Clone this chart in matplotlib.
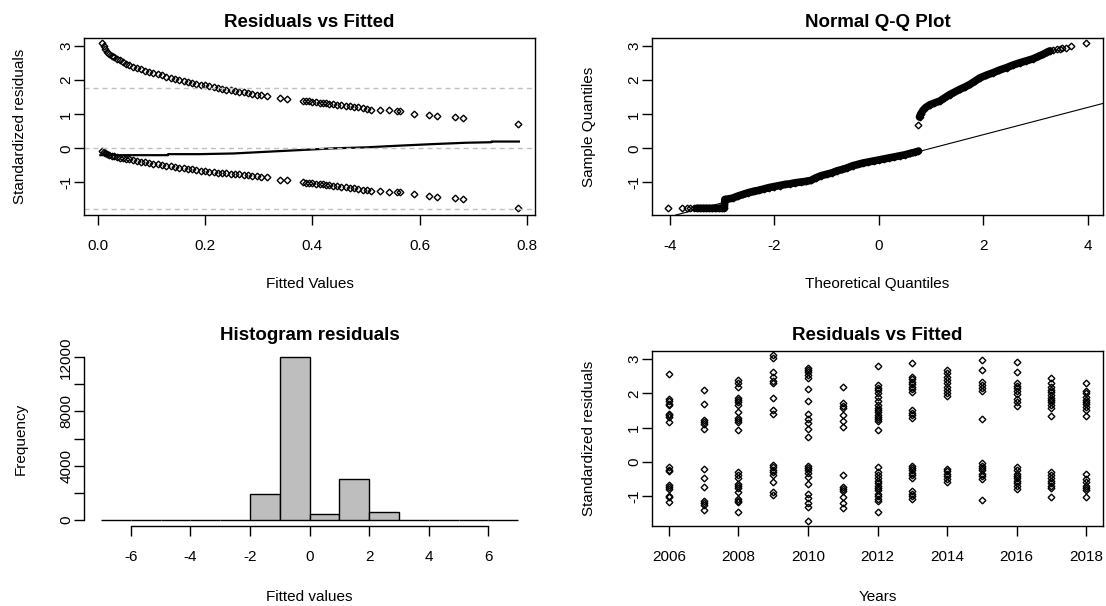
import matplotlib.pyplot as plt
import numpy as np

plt.rcParams['font.family'] = ['Liberation Sans', 'DejaVu Sans']
plt.rcParams['axes.unicode_minus'] = False

# Residuals vs fitted (top left): fitted values, residuals of the 1s and the 0s
fitted = [0.008, 0.011, 0.014, 0.018, 0.022, 0.026, 0.031, 0.036, 0.041, 0.047,
          0.053, 0.059, 0.066, 0.073, 0.080, 0.088, 0.096, 0.104, 0.112, 0.120,
          0.128, 0.136, 0.144, 0.152, 0.160, 0.168, 0.176, 0.184, 0.192, 0.200,
          0.208, 0.216, 0.224, 0.232, 0.240, 0.248, 0.256, 0.264, 0.272, 0.280,
          0.288, 0.296, 0.304, 0.315, 0.340, 0.353, 0.382, 0.388, 0.394, 0.400,
          0.407, 0.414, 0.420, 0.426, 0.432, 0.439, 0.446, 0.454, 0.462, 0.470,
          0.478, 0.486, 0.494, 0.502, 0.510, 0.526, 0.543, 0.557, 0.563, 0.589,
          0.618, 0.633, 0.666, 0.681, 0.783]
resid_pos = [3.08, 3.00, 2.92, 2.83, 2.77, 2.72, 2.67, 2.63, 2.59, 2.54,
             2.49, 2.45, 2.40, 2.36, 2.32, 2.27, 2.24, 2.21, 2.17, 2.14,
             2.10, 2.07, 2.04, 2.01, 1.98, 1.96, 1.93, 1.90, 1.87, 1.85,
             1.82, 1.79, 1.77, 1.75, 1.72, 1.70, 1.68, 1.66, 1.64, 1.62,
             1.60, 1.58, 1.56, 1.54, 1.47, 1.45, 1.40, 1.39, 1.38, 1.36,
             1.35, 1.34, 1.33, 1.32, 1.31, 1.30, 1.28, 1.27, 1.25, 1.23,
             1.22, 1.20, 1.18, 1.16, 1.14, 1.12, 1.12, 1.09, 1.09, 1.02,
             0.97, 0.95, 0.91, 0.88, 0.72]
resid_neg = [-0.09, -0.12, -0.15, -0.17, -0.19, -0.21, -0.23, -0.25, -0.27, -0.29,
             -0.30, -0.32, -0.34, -0.36, -0.39, -0.41, -0.43, -0.45, -0.47, -0.49,
             -0.51, -0.53, -0.55, -0.57, -0.59, -0.61, -0.62, -0.63, -0.65, -0.66,
             -0.68, -0.69, -0.71, -0.72, -0.73, -0.74, -0.75, -0.76, -0.78, -0.79,
             -0.81, -0.82, -0.84, -0.85, -0.93, -0.93, -1.00, -1.01, -1.02, -1.03,
             -1.04, -1.05, -1.06, -1.07, -1.08, -1.10, -1.11, -1.12, -1.14, -1.16,
             -1.17, -1.19, -1.21, -1.23, -1.25, -1.24, -1.27, -1.27, -1.28, -1.35,
             -1.39, -1.42, -1.47, -1.50, -1.76]
smooth_x = [0.005, 0.131, 0.131, 0.190, 0.253, 0.315, 0.377, 0.439, 0.501,
            0.563, 0.625, 0.687, 0.734, 0.734, 0.785]
smooth_y = [-0.20, -0.20, -0.17, -0.17, -0.15, -0.10, -0.05, 0.00, 0.03,
            0.08, 0.125, 0.165, 0.18, 0.20, 0.20]
ref_levels = [-1.77, 0.0, 1.77]

# Normal Q-Q (top right)
qq_lo_theo = [-4.03, -3.78, -3.68, -3.62, -3.55, -3.49, -3.43, -3.37, -3.31, -3.25,
              -3.19, -3.13, -3.07, -3.01, -2.96, -2.95, -2.90, -2.80, -2.70, -2.60,
              -2.50, -2.40, -2.30, -2.20, -2.10, -2.00, -1.90, -1.80, -1.70, -1.60,
              -1.50, -1.40, -1.30, -1.20, -1.10, -1.00, -0.90, -0.80, -0.70, -0.60,
              -0.50, -0.40, -0.30, -0.20, -0.10, 0.00, 0.10, 0.20, 0.30, 0.40,
              0.50, 0.60, 0.70, 0.76]
qq_lo_sample = [-1.76, -1.76, -1.76, -1.76, -1.76, -1.76, -1.76, -1.76, -1.76, -1.76,
                -1.76, -1.76, -1.76, -1.76, -1.76, -1.50, -1.49, -1.46, -1.40, -1.35,
                -1.30, -1.26, -1.23, -1.19, -1.15, -1.12, -1.09, -1.06, -1.04, -1.01,
                -0.99, -0.97, -0.94, -0.86, -0.80, -0.76, -0.72, -0.66, -0.62, -0.57,
                -0.51, -0.47, -0.43, -0.40, -0.37, -0.34, -0.31, -0.28, -0.25, -0.22,
                -0.19, -0.15, -0.11, -0.08]
qq_hi_theo = [0.745, 0.78, 0.80, 0.85, 0.90, 0.98, 1.05, 1.17, 1.25, 1.36,
              1.45, 1.55, 1.65, 1.75, 1.85, 1.94, 2.05, 2.19, 2.30, 2.45,
              2.58, 2.70, 2.83, 2.96, 3.06, 3.15, 3.22, 3.28, 3.34, 3.41,
              3.47, 3.52, 3.59, 3.69, 3.97]
qq_hi_sample = [0.70, 0.92, 1.00, 1.12, 1.20, 1.28, 1.32, 1.39, 1.47, 1.58,
                1.65, 1.73, 1.80, 1.88, 1.98, 2.07, 2.14, 2.22, 2.29, 2.37,
                2.45, 2.51, 2.57, 2.63, 2.70, 2.76, 2.82, 2.86, 2.89, 2.91,
                2.93, 2.94, 2.94, 3.00, 3.08]
qq_intercept = -0.40
qq_slope = 0.40

# Histogram (bottom left)
hist_breaks = list(range(-7, 8))
hist_counts = [0, 0, 0, 0, 0, 1920, 12000, 440, 3020, 540, 0, 0, 0, 0]

# Residuals by year (bottom right)
years = list(range(2006, 2019))
r2006 = [2.56, 1.85, 1.77, 1.70, 1.66, 1.41, 1.36, 1.31, 1.17,
         -0.16, -0.23, -0.28, -0.68, -0.75, -0.81, -0.99, -1.04, -1.19]
r2007 = [2.10, 1.68, 1.22, 1.15, 1.09, 0.97,
         -0.21, -0.48, -0.75, -1.14, -1.21, -1.26, -1.40]
r2008 = [2.39, 2.29, 2.20, 1.87, 1.80, 1.74, 1.66, 1.46, 1.28, 1.22, 1.15, 0.94,
         -0.30, -0.38, -0.48, -0.65, -0.72, -0.77, -0.89, -1.09, -1.14, -1.19, -1.46]
r2009 = [3.11, 3.03, 2.62, 2.49, 2.36, 2.29, 1.87, 1.51, 1.41,
         -0.09, -0.16, -0.25, -0.30, -0.40, -0.60, -0.89, -0.97]
r2010 = [2.75, 2.69, 2.62, 2.54, 2.44, 2.13, 1.77, 1.41, 1.26, 1.12, 0.95, 0.73,
         -0.13, -0.19, -0.25, -0.32, -0.45, -0.65, -0.94, -1.07, -1.21, -1.33, -1.73]
r2011 = [2.20, 1.71, 1.64, 1.56, 1.38, 1.19, 1.02,
         -0.40, -0.75, -0.81, -0.87, -1.04, -1.21, -1.36]
r2012 = [2.79, 2.25, 2.17, 2.10, 2.00, 1.90, 1.77, 1.66, 1.58, 1.51, 1.46, 1.38,
         1.31, 1.25, 1.19, 0.92,
         -0.16, -0.30, -0.40, -0.48, -0.55, -0.62, -0.70, -0.77, -0.84, -0.94,
         -1.01, -1.09, -1.14, -1.48]
r2013 = [2.88, 2.49, 2.42, 2.34, 2.26, 2.20, 2.12, 2.05, 1.51, 1.44, 1.36, 1.28,
         -0.11, -0.19, -0.25, -0.32, -0.40, -0.48, -0.87, -0.94, -1.01, -1.09]
r2014 = [2.69, 2.59, 2.49, 2.39, 2.29, 2.20, 2.10, 2.00, 1.93,
         -0.21, -0.28, -0.35, -0.42, -0.50, -0.58]
r2015 = [2.98, 2.69, 2.32, 2.25, 2.17, 2.07, 1.25,
         -0.03, -0.11, -0.19, -0.25, -0.35, -0.42, -0.50, -1.11]
r2016 = [2.91, 2.62, 2.29, 2.23, 2.15, 2.07, 1.97, 1.85, 1.74, 1.64,
         -0.16, -0.25, -0.35, -0.42, -0.48, -0.55, -0.62, -0.72, -0.81]
r2017 = [2.44, 2.29, 2.20, 2.10, 2.03, 1.95, 1.87, 1.80, 1.74, 1.66, 1.58, 1.33,
         -0.30, -0.40, -0.48, -0.55, -0.62, -0.70, -0.77, -1.04]
r2018 = [2.29, 2.08, 2.00, 1.90, 1.82, 1.75, 1.68, 1.60, 1.50, 1.33,
         -0.37, -0.50, -0.60, -0.70, -0.76, -0.84, -1.04]
resid_by_year = [r2006, r2007, r2008, r2009, r2010, r2011, r2012,
                 r2013, r2014, r2015, r2016, r2017, r2018]

# R-like look
TITLE = dict(fontsize=13.5, fontweight='bold', pad=7.8)
LABEL = 11
pts = dict(linestyle='none', marker='D', markersize=3.4, markerfacecolor='none',
           markeredgecolor='black', markeredgewidth=1.0)


def r_axes(ax):
    for s in ax.spines.values():
        s.set_linewidth(1.0)
    ax.tick_params(direction='out', length=7, width=1.0, labelsize=LABEL)
    ax.tick_params(axis='x', pad=10.5)
    ax.tick_params(axis='y', pad=1)
    for lab in ax.get_yticklabels():
        lab.set_rotation(90)
        lab.set_va('center')
    ax.xaxis.set_label_coords(0.5, -0.352)
    ax.yaxis.set_label_coords(-0.126, 0.5)


fig = plt.figure(figsize=(11.06, 6.06), dpi=100)
ax1 = fig.add_axes([0.0762, 0.6452, 0.4075, 0.2916])
ax2 = fig.add_axes([0.5898, 0.6452, 0.4072, 0.2916])
ax3 = fig.add_axes([0.0762, 0.1320, 0.4075, 0.2888])
ax4 = fig.add_axes([0.5898, 0.1320, 0.4072, 0.2888])

# --- top left
ax1.plot(fitted, resid_pos, **pts)
ax1.plot(fitted, resid_neg, **pts)
ax1.plot(smooth_x, smooth_y, color='black', lw=1.6)
for lv in ref_levels:
    ax1.axhline(lv, color='#c0c0c0', lw=1.0, dashes=(3.6, 2.9))
ax1.set_xlim(-0.025, 0.815)
ax1.set_ylim(-1.956, 3.23)
ax1.set_xticks([0.0, 0.2, 0.4, 0.6, 0.8])
ax1.set_xticklabels(['0.0', '0.2', '0.4', '0.6', '0.8'])
ax1.set_yticks([-1, 0, 1, 2, 3])
ax1.set_title('Residuals vs Fitted', **TITLE)
ax1.set_xlabel('Fitted Values', fontsize=LABEL)
ax1.set_ylabel('Standardized residuals', fontsize=LABEL)
r_axes(ax1)

# --- top right
lo_t = np.array(qq_lo_theo)
lo_s = np.array(qq_lo_sample)
hi_t = np.array(qq_hi_theo)
hi_s = np.array(qq_hi_sample)
m_lo = lo_t > -3.5
m_hi = (hi_t > 0.77) & (hi_t < 3.3)
ax2.axline((0, qq_intercept), slope=qq_slope, color='black', lw=0.8)
ax2.plot(lo_t[m_lo], lo_s[m_lo], color='black', lw=5.5, solid_capstyle='round')
ax2.plot(hi_t[m_hi], hi_s[m_hi], color='black', lw=5.5, solid_capstyle='round')
ax2.plot(lo_t, lo_s, **pts)
ax2.plot(hi_t, hi_s, **pts)
ax2.set_xlim(-4.34, 4.29)
ax2.set_ylim(-1.956, 3.23)
ax2.set_xticks([-4, -2, 0, 2, 4])
ax2.set_yticks([-1, 0, 1, 2, 3])
ax2.set_title('Normal Q-Q Plot', **TITLE)
ax2.set_xlabel('Theoretical Quantiles', fontsize=LABEL)
ax2.set_ylabel('Sample Quantiles', fontsize=LABEL)
r_axes(ax2)

# --- bottom left
ax3.bar(hist_breaks[:-1], hist_counts, width=1, align='edge',
        color='#bebebe', edgecolor='black', linewidth=1.0)
ax3.set_xlim(-7.56, 7.56)
ax3.set_ylim(-480, 12480)
ax3.set_xticks([-6, -4, -2, 0, 2, 4, 6])
ax3.set_yticks(range(0, 12001, 2000))
ax3.set_yticklabels(['0', '', '4000', '', '8000', '', '12000'])
ax3.spines['top'].set_visible(False)
ax3.spines['right'].set_visible(False)
ax3.spines['left'].set_bounds(0, 12000)
ax3.spines['bottom'].set_bounds(-6, 6)
ax3.set_title('Histogram residuals', **TITLE)
ax3.set_xlabel('Fitted values', fontsize=LABEL)
ax3.set_ylabel('Frequency', fontsize=LABEL)
r_axes(ax3)
ax3.xaxis.set_label_coords(0.5, -0.363)

# --- bottom right
for yr, vals in zip(years, resid_by_year):
    ax4.plot([yr] * len(vals), vals, **pts)
ax4.set_xlim(2005.52, 2018.48)
ax4.set_ylim(-1.88, 3.24)
ax4.set_xticks(range(2006, 2019, 2))
ax4.set_yticks([-1, 0, 1, 2, 3])
ax4.set_title('Residuals vs Fitted', **TITLE)
ax4.set_xlabel('Years', fontsize=LABEL)
ax4.set_ylabel('Standardized residuals', fontsize=LABEL)
r_axes(ax4)
ax4.xaxis.set_label_coords(0.5, -0.363)

fig.savefig('out.png', dpi=100)
